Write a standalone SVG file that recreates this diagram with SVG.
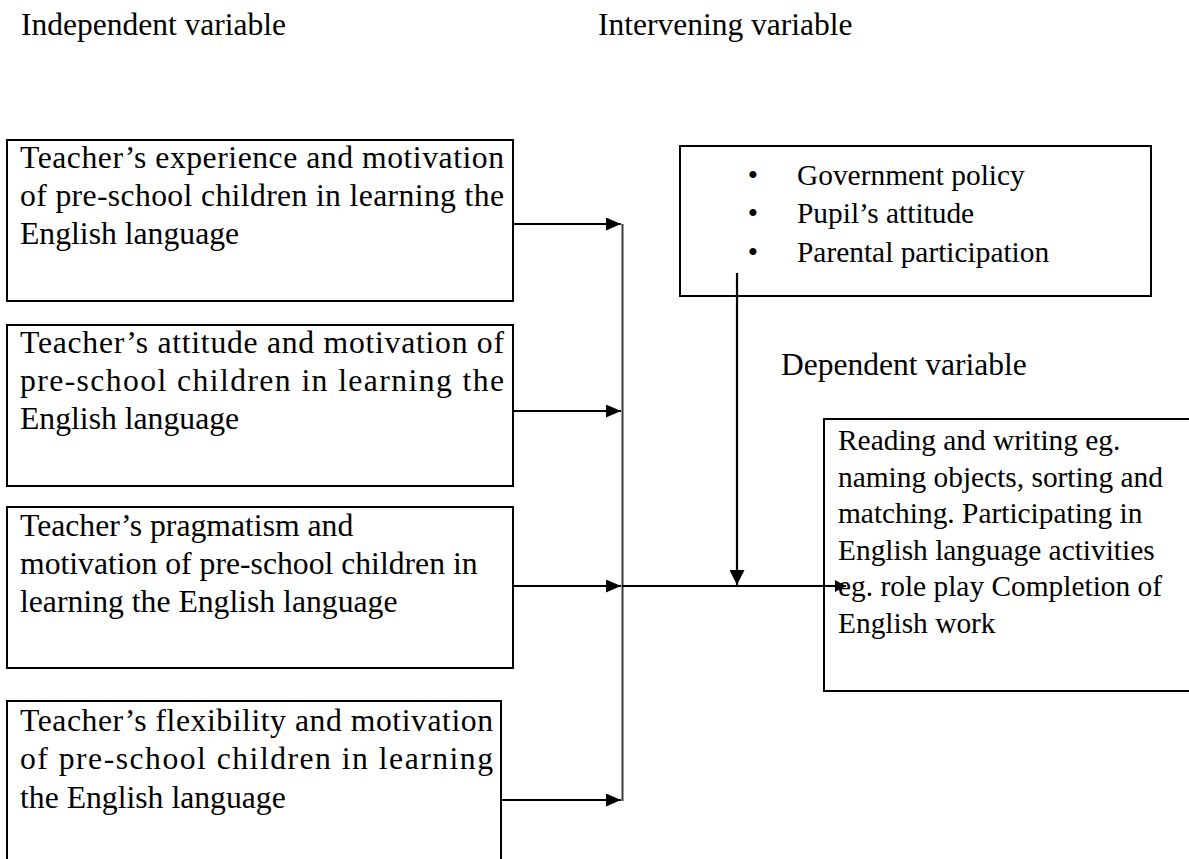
<svg xmlns="http://www.w3.org/2000/svg" width="1189" height="859" viewBox="0 0 1189 859">
<style>
.lbl{font-family:"Liberation Serif","Times New Roman",serif;font-size:31.5px;fill:#000}
.bt{font-family:"Liberation Serif","Times New Roman",serif;font-size:31.7px;fill:#000}
.rt{font-family:"Liberation Serif","Times New Roman",serif;font-size:29.4px;fill:#000}
.box{fill:#fff;stroke:#000;stroke-width:2}
.conn{stroke:#000;stroke-width:2.2;fill:none}
.spine{stroke:#3a3a3a;stroke-width:2;fill:none}
</style>
<defs>
<marker id="ah" markerUnits="userSpaceOnUse" markerWidth="15" markerHeight="13" refX="15" refY="6.5" orient="auto">
<path d="M0,0 L15,6.5 L0,13 z" fill="#000"/>
</marker>
<marker id="ahd" markerUnits="userSpaceOnUse" markerWidth="15" markerHeight="15" refX="15" refY="7.5" orient="auto">
<path d="M0,0 L15,7.5 L0,15 z" fill="#000"/>
</marker>
<marker id="ahs" markerUnits="userSpaceOnUse" markerWidth="11" markerHeight="12" refX="11" refY="6" orient="auto">
<path d="M0,0 L11,6 L0,12 z" fill="#000"/>
</marker>
</defs>
<rect width="1189" height="859" fill="#fff"/>

<text class="lbl" x="21" y="35">Independent variable</text>
<text class="lbl" x="598" y="35">Intervening variable</text>
<text class="lbl" x="781" y="375">Dependent variable</text>

<g id="node-experience">
<rect class="box" x="7" y="140" width="506" height="161"/>
<text class="bt" x="20" y="168" textLength="484" lengthAdjust="spacing">Teacher’s experience and motivation</text>
<text class="bt" x="20" y="206" textLength="484" lengthAdjust="spacing">of pre-school children in learning the</text>
<text class="bt" x="20" y="244">English language</text>
</g>

<g id="node-attitude">
<rect class="box" x="7" y="325" width="506" height="161"/>
<text class="bt" x="20" y="353" textLength="484" lengthAdjust="spacing">Teacher’s attitude and motivation of</text>
<text class="bt" x="20" y="391" textLength="484" lengthAdjust="spacing">pre-school children in learning the</text>
<text class="bt" x="20" y="429">English language</text>
</g>

<g id="node-pragmatism">
<rect class="box" x="7" y="507" width="506" height="161"/>
<text class="bt" x="20" y="536">Teacher’s pragmatism and</text>
<text class="bt" x="20" y="574">motivation of pre-school children in</text>
<text class="bt" x="20" y="612">learning the English language</text>
</g>

<g id="node-flexibility">
<rect class="box" x="7" y="701" width="494" height="180"/>
<text class="bt" x="20" y="731" textLength="473" lengthAdjust="spacing">Teacher’s flexibility and motivation</text>
<text class="bt" x="20" y="769" textLength="473" lengthAdjust="spacing">of pre-school children in learning</text>
<text class="bt" x="20" y="808">the English language</text>
</g>

<g id="node-intervening">
<rect class="box" x="680" y="146" width="471" height="150"/>
<text class="rt" x="753" y="185" text-anchor="middle">•</text>
<text class="rt" x="797" y="185">Government policy</text>
<text class="rt" x="753" y="223" text-anchor="middle">•</text>
<text class="rt" x="797" y="223">Pupil’s attitude</text>
<text class="rt" x="753" y="262" text-anchor="middle">•</text>
<text class="rt" x="797" y="262">Parental participation</text>
</g>

<g id="node-dependent">
<rect class="box" x="824" y="419" width="380" height="272"/>
<text class="rt" x="838" y="450">Reading and writing eg.</text>
<text class="rt" x="838" y="486.5">naming objects, sorting and</text>
<text class="rt" x="838" y="523">matching. Participating in</text>
<text class="rt" x="838" y="559.5">English language activities</text>
<text class="rt" x="838" y="596">eg. role play Completion of</text>
<text class="rt" x="838" y="632.5">English work</text>
</g>

<g id="connectors">
<line class="spine" x1="622.5" y1="224" x2="622.5" y2="801"/>
<line class="conn" x1="513" y1="224" x2="621" y2="224" marker-end="url(#ah)"/>
<line class="conn" x1="513" y1="411" x2="621" y2="411" marker-end="url(#ah)"/>
<line class="conn" x1="513" y1="586" x2="621" y2="586" marker-end="url(#ah)"/>
<line class="conn" x1="501" y1="800" x2="621" y2="800" marker-end="url(#ah)"/>
<line class="conn" x1="622" y1="586" x2="846" y2="586" marker-end="url(#ahs)"/>
<line class="conn" x1="737" y1="273" x2="737" y2="585" marker-end="url(#ahd)"/>
</g>
</svg>
